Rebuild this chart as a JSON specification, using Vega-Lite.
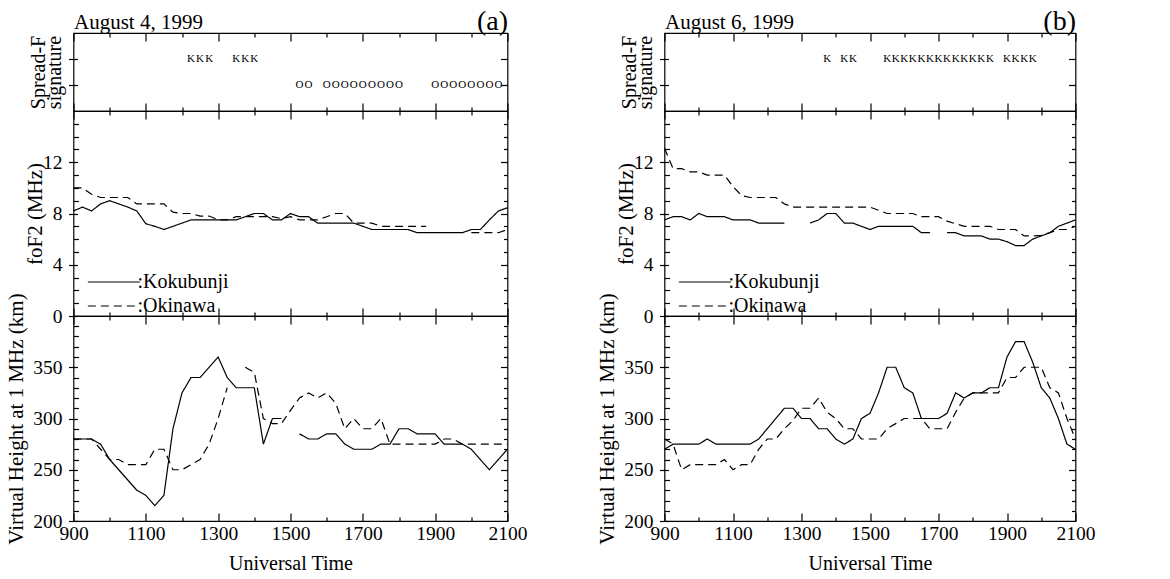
{
"$schema": "https://vega.github.io/schema/vega-lite/v6.json",
"background": "white",
"padding": {"left": 4.5, "top": 6, "right": 5, "bottom": 5},
"config": {
 "view": {"stroke": "black", "strokeWidth": 1.2},
 "axis": {"grid": false, "domain": false, "labelFont": "Liberation Serif", "labelFontSize": 19.5, "labelColor": "black", "titleFont": "Liberation Serif", "titleFontSize": 21, "titleFontWeight": "normal", "titleColor": "black", "tickColor": "black", "tickWidth": 1.2, "labelFlush": false, "labelOverlap": false, "labelBound": false},
 "legend": {"labelFont": "Liberation Serif", "labelColor": "black"},
 "text": {"font": "Liberation Serif"}
},
"datasets": {
 "sfA": [
  {"t":12.25,"lev":2,"ch":"K"},{"t":12.5,"lev":2,"ch":"K"},{"t":12.75,"lev":2,"ch":"K"},
  {"t":13.5,"lev":2,"ch":"K"},{"t":13.75,"lev":2,"ch":"K"},{"t":14,"lev":2,"ch":"K"},
  {"t":15.25,"lev":1,"ch":"O"},{"t":15.5,"lev":1,"ch":"O"},
  {"t":16,"lev":1,"ch":"O"},{"t":16.25,"lev":1,"ch":"O"},{"t":16.5,"lev":1,"ch":"O"},{"t":16.75,"lev":1,"ch":"O"},{"t":17,"lev":1,"ch":"O"},{"t":17.25,"lev":1,"ch":"O"},{"t":17.5,"lev":1,"ch":"O"},{"t":17.75,"lev":1,"ch":"O"},{"t":18,"lev":1,"ch":"O"},
  {"t":19,"lev":1,"ch":"O"},{"t":19.25,"lev":1,"ch":"O"},{"t":19.5,"lev":1,"ch":"O"},{"t":19.75,"lev":1,"ch":"O"},{"t":20,"lev":1,"ch":"O"},{"t":20.25,"lev":1,"ch":"O"},{"t":20.5,"lev":1,"ch":"O"},{"t":20.75,"lev":1,"ch":"O"}
 ],
 "sfB": [
  {"t":13.75,"lev":2,"ch":"K"},{"t":14.25,"lev":2,"ch":"K"},{"t":14.5,"lev":2,"ch":"K"},
  {"t":15.5,"lev":2,"ch":"K"},{"t":15.75,"lev":2,"ch":"K"},{"t":16,"lev":2,"ch":"K"},{"t":16.25,"lev":2,"ch":"K"},{"t":16.5,"lev":2,"ch":"K"},{"t":16.75,"lev":2,"ch":"K"},{"t":17,"lev":2,"ch":"K"},{"t":17.25,"lev":2,"ch":"K"},{"t":17.5,"lev":2,"ch":"K"},{"t":17.75,"lev":2,"ch":"K"},{"t":18,"lev":2,"ch":"K"},{"t":18.25,"lev":2,"ch":"K"},{"t":18.5,"lev":2,"ch":"K"},
  {"t":19,"lev":2,"ch":"K"},{"t":19.25,"lev":2,"ch":"K"},{"t":19.5,"lev":2,"ch":"K"},{"t":19.75,"lev":2,"ch":"K"}
 ],
 "foA": [
  {"stn":"Kokubunji","seg":1,"t":9,"v":8.2},{"stn":"Kokubunji","seg":1,"t":9.25,"v":8.5},{"stn":"Kokubunji","seg":1,"t":9.5,"v":8.2},{"stn":"Kokubunji","seg":1,"t":9.75,"v":8.75},{"stn":"Kokubunji","seg":1,"t":10,"v":9},{"stn":"Kokubunji","seg":1,"t":10.25,"v":8.75},{"stn":"Kokubunji","seg":1,"t":10.5,"v":8.5},{"stn":"Kokubunji","seg":1,"t":10.75,"v":8.2},{"stn":"Kokubunji","seg":1,"t":11,"v":7.2},{"stn":"Kokubunji","seg":1,"t":11.25,"v":7},{"stn":"Kokubunji","seg":1,"t":11.5,"v":6.75},{"stn":"Kokubunji","seg":1,"t":11.75,"v":7},{"stn":"Kokubunji","seg":1,"t":12,"v":7.25},{"stn":"Kokubunji","seg":1,"t":12.25,"v":7.5},{"stn":"Kokubunji","seg":1,"t":12.5,"v":7.5},{"stn":"Kokubunji","seg":1,"t":12.75,"v":7.5},{"stn":"Kokubunji","seg":1,"t":13,"v":7.5},{"stn":"Kokubunji","seg":1,"t":13.25,"v":7.5},{"stn":"Kokubunji","seg":1,"t":13.5,"v":7.5},{"stn":"Kokubunji","seg":1,"t":13.75,"v":7.75},{"stn":"Kokubunji","seg":1,"t":14,"v":8},{"stn":"Kokubunji","seg":1,"t":14.25,"v":8},{"stn":"Kokubunji","seg":1,"t":14.5,"v":7.5},{"stn":"Kokubunji","seg":1,"t":14.75,"v":7.5},{"stn":"Kokubunji","seg":1,"t":15,"v":8},{"stn":"Kokubunji","seg":1,"t":15.25,"v":7.75},{"stn":"Kokubunji","seg":1,"t":15.5,"v":7.75},{"stn":"Kokubunji","seg":1,"t":15.75,"v":7.25},{"stn":"Kokubunji","seg":1,"t":16,"v":7.25},{"stn":"Kokubunji","seg":1,"t":16.25,"v":7.25},{"stn":"Kokubunji","seg":1,"t":16.5,"v":7.25},{"stn":"Kokubunji","seg":1,"t":16.75,"v":7.25},{"stn":"Kokubunji","seg":1,"t":17,"v":7},{"stn":"Kokubunji","seg":1,"t":17.25,"v":6.75},{"stn":"Kokubunji","seg":1,"t":17.5,"v":6.75},{"stn":"Kokubunji","seg":1,"t":17.75,"v":6.75},{"stn":"Kokubunji","seg":1,"t":18,"v":6.75},{"stn":"Kokubunji","seg":1,"t":18.25,"v":6.75},{"stn":"Kokubunji","seg":1,"t":18.5,"v":6.5},{"stn":"Kokubunji","seg":1,"t":18.75,"v":6.5},{"stn":"Kokubunji","seg":1,"t":19,"v":6.5},{"stn":"Kokubunji","seg":1,"t":19.25,"v":6.5},{"stn":"Kokubunji","seg":1,"t":19.5,"v":6.5},{"stn":"Kokubunji","seg":1,"t":19.75,"v":6.5},{"stn":"Kokubunji","seg":1,"t":20,"v":6.75},{"stn":"Kokubunji","seg":1,"t":20.25,"v":6.75},{"stn":"Kokubunji","seg":1,"t":20.5,"v":7.5},{"stn":"Kokubunji","seg":1,"t":20.75,"v":8.2},{"stn":"Kokubunji","seg":1,"t":21,"v":8.45},
  {"stn":"Okinawa","seg":1,"t":9,"v":10},{"stn":"Okinawa","seg":1,"t":9.25,"v":10},{"stn":"Okinawa","seg":1,"t":9.5,"v":9.5},{"stn":"Okinawa","seg":1,"t":9.75,"v":9.25},{"stn":"Okinawa","seg":1,"t":10,"v":9.25},{"stn":"Okinawa","seg":1,"t":10.25,"v":9.25},{"stn":"Okinawa","seg":1,"t":10.5,"v":9.25},{"stn":"Okinawa","seg":1,"t":10.75,"v":8.75},{"stn":"Okinawa","seg":1,"t":11,"v":8.75},{"stn":"Okinawa","seg":1,"t":11.25,"v":8.75},{"stn":"Okinawa","seg":1,"t":11.5,"v":8.75},{"stn":"Okinawa","seg":1,"t":11.75,"v":8.1},{"stn":"Okinawa","seg":1,"t":12,"v":8},{"stn":"Okinawa","seg":1,"t":12.25,"v":8},{"stn":"Okinawa","seg":1,"t":12.5,"v":7.8},{"stn":"Okinawa","seg":1,"t":12.75,"v":7.8},{"stn":"Okinawa","seg":1,"t":13,"v":7.5},{"stn":"Okinawa","seg":1,"t":13.25,"v":7.5},{"stn":"Okinawa","seg":1,"t":13.5,"v":7.75},{"stn":"Okinawa","seg":1,"t":13.75,"v":7.75},{"stn":"Okinawa","seg":1,"t":14,"v":7.75},{"stn":"Okinawa","seg":1,"t":14.25,"v":7.75},{"stn":"Okinawa","seg":1,"t":14.5,"v":7.75},{"stn":"Okinawa","seg":1,"t":14.75,"v":7.6},{"stn":"Okinawa","seg":1,"t":15,"v":7.75},{"stn":"Okinawa","seg":1,"t":15.25,"v":7.5},{"stn":"Okinawa","seg":1,"t":15.5,"v":7.5},{"stn":"Okinawa","seg":1,"t":15.75,"v":7.5},{"stn":"Okinawa","seg":1,"t":16,"v":7.75},{"stn":"Okinawa","seg":1,"t":16.25,"v":8},{"stn":"Okinawa","seg":1,"t":16.5,"v":8},{"stn":"Okinawa","seg":1,"t":16.75,"v":7.25},{"stn":"Okinawa","seg":1,"t":17,"v":7.25},{"stn":"Okinawa","seg":1,"t":17.25,"v":7.25},{"stn":"Okinawa","seg":1,"t":17.5,"v":7},{"stn":"Okinawa","seg":1,"t":17.75,"v":7},{"stn":"Okinawa","seg":1,"t":18,"v":7},{"stn":"Okinawa","seg":1,"t":18.25,"v":7},{"stn":"Okinawa","seg":1,"t":18.5,"v":7},{"stn":"Okinawa","seg":1,"t":18.75,"v":7},
  {"stn":"Okinawa","seg":2,"t":20,"v":6.5},{"stn":"Okinawa","seg":2,"t":20.25,"v":6.5},{"stn":"Okinawa","seg":2,"t":20.5,"v":6.5},{"stn":"Okinawa","seg":2,"t":20.75,"v":6.5},{"stn":"Okinawa","seg":2,"t":21,"v":6.75}
 ],
 "foB": [
  {"stn":"Kokubunji","seg":1,"t":9,"v":7.5},{"stn":"Kokubunji","seg":1,"t":9.25,"v":7.75},{"stn":"Kokubunji","seg":1,"t":9.5,"v":7.75},{"stn":"Kokubunji","seg":1,"t":9.75,"v":7.5},{"stn":"Kokubunji","seg":1,"t":10,"v":8},{"stn":"Kokubunji","seg":1,"t":10.25,"v":7.75},{"stn":"Kokubunji","seg":1,"t":10.5,"v":7.75},{"stn":"Kokubunji","seg":1,"t":10.75,"v":7.75},{"stn":"Kokubunji","seg":1,"t":11,"v":7.5},{"stn":"Kokubunji","seg":1,"t":11.25,"v":7.5},{"stn":"Kokubunji","seg":1,"t":11.5,"v":7.5},{"stn":"Kokubunji","seg":1,"t":11.75,"v":7.25},{"stn":"Kokubunji","seg":1,"t":12,"v":7.25},{"stn":"Kokubunji","seg":1,"t":12.25,"v":7.25},{"stn":"Kokubunji","seg":1,"t":12.5,"v":7.25},
  {"stn":"Kokubunji","seg":2,"t":13.25,"v":7.25},{"stn":"Kokubunji","seg":2,"t":13.5,"v":7.5},{"stn":"Kokubunji","seg":2,"t":13.75,"v":8},{"stn":"Kokubunji","seg":2,"t":14,"v":8},{"stn":"Kokubunji","seg":2,"t":14.25,"v":7.25},{"stn":"Kokubunji","seg":2,"t":14.5,"v":7.25},{"stn":"Kokubunji","seg":2,"t":14.75,"v":7},{"stn":"Kokubunji","seg":2,"t":15,"v":6.75},{"stn":"Kokubunji","seg":2,"t":15.25,"v":7},{"stn":"Kokubunji","seg":2,"t":15.5,"v":7},{"stn":"Kokubunji","seg":2,"t":15.75,"v":7},{"stn":"Kokubunji","seg":2,"t":16,"v":7},{"stn":"Kokubunji","seg":2,"t":16.25,"v":7},{"stn":"Kokubunji","seg":2,"t":16.5,"v":6.5},{"stn":"Kokubunji","seg":2,"t":16.75,"v":6.5},
  {"stn":"Kokubunji","seg":3,"t":17.25,"v":6.5},{"stn":"Kokubunji","seg":3,"t":17.5,"v":6.5},{"stn":"Kokubunji","seg":3,"t":17.75,"v":6.25},{"stn":"Kokubunji","seg":3,"t":18,"v":6.25},{"stn":"Kokubunji","seg":3,"t":18.25,"v":6.25},{"stn":"Kokubunji","seg":3,"t":18.5,"v":6},{"stn":"Kokubunji","seg":3,"t":18.75,"v":6},{"stn":"Kokubunji","seg":3,"t":19,"v":5.8},{"stn":"Kokubunji","seg":3,"t":19.25,"v":5.5},{"stn":"Kokubunji","seg":3,"t":19.5,"v":5.5},{"stn":"Kokubunji","seg":3,"t":19.75,"v":6},{"stn":"Kokubunji","seg":3,"t":20,"v":6.25},{"stn":"Kokubunji","seg":3,"t":20.25,"v":6.5},{"stn":"Kokubunji","seg":3,"t":20.5,"v":7},{"stn":"Kokubunji","seg":3,"t":20.75,"v":7.25},{"stn":"Kokubunji","seg":3,"t":21,"v":7.5},
  {"stn":"Okinawa","seg":1,"t":9,"v":13.1},{"stn":"Okinawa","seg":1,"t":9.25,"v":11.5},{"stn":"Okinawa","seg":1,"t":9.5,"v":11.5},{"stn":"Okinawa","seg":1,"t":9.75,"v":11.25},{"stn":"Okinawa","seg":1,"t":10,"v":11.25},{"stn":"Okinawa","seg":1,"t":10.25,"v":11},{"stn":"Okinawa","seg":1,"t":10.5,"v":11},{"stn":"Okinawa","seg":1,"t":10.75,"v":11},{"stn":"Okinawa","seg":1,"t":11,"v":10.1},{"stn":"Okinawa","seg":1,"t":11.25,"v":9.4},{"stn":"Okinawa","seg":1,"t":11.5,"v":9.25},{"stn":"Okinawa","seg":1,"t":11.75,"v":9.25},{"stn":"Okinawa","seg":1,"t":12,"v":9.25},{"stn":"Okinawa","seg":1,"t":12.25,"v":9.25},{"stn":"Okinawa","seg":1,"t":12.5,"v":8.75},{"stn":"Okinawa","seg":1,"t":12.75,"v":8.5},{"stn":"Okinawa","seg":1,"t":13,"v":8.5},{"stn":"Okinawa","seg":1,"t":13.25,"v":8.5},{"stn":"Okinawa","seg":1,"t":13.5,"v":8.5},{"stn":"Okinawa","seg":1,"t":13.75,"v":8.5},{"stn":"Okinawa","seg":1,"t":14,"v":8.5},{"stn":"Okinawa","seg":1,"t":14.25,"v":8.5},{"stn":"Okinawa","seg":1,"t":14.5,"v":8.5},{"stn":"Okinawa","seg":1,"t":14.75,"v":8.5},{"stn":"Okinawa","seg":1,"t":15,"v":8.5},{"stn":"Okinawa","seg":1,"t":15.25,"v":8.25},{"stn":"Okinawa","seg":1,"t":15.5,"v":8},{"stn":"Okinawa","seg":1,"t":15.75,"v":8},{"stn":"Okinawa","seg":1,"t":16,"v":8},{"stn":"Okinawa","seg":1,"t":16.25,"v":8},{"stn":"Okinawa","seg":1,"t":16.5,"v":7.75},{"stn":"Okinawa","seg":1,"t":16.75,"v":7.75},{"stn":"Okinawa","seg":1,"t":17,"v":7.75},{"stn":"Okinawa","seg":1,"t":17.25,"v":7.4},{"stn":"Okinawa","seg":1,"t":17.5,"v":7.2},{"stn":"Okinawa","seg":1,"t":17.75,"v":7},{"stn":"Okinawa","seg":1,"t":18,"v":7},{"stn":"Okinawa","seg":1,"t":18.25,"v":7},{"stn":"Okinawa","seg":1,"t":18.5,"v":7},{"stn":"Okinawa","seg":1,"t":18.75,"v":6.75},{"stn":"Okinawa","seg":1,"t":19,"v":6.75},{"stn":"Okinawa","seg":1,"t":19.25,"v":6.75},{"stn":"Okinawa","seg":1,"t":19.5,"v":6.25},{"stn":"Okinawa","seg":1,"t":19.75,"v":6.25},{"stn":"Okinawa","seg":1,"t":20,"v":6.3},{"stn":"Okinawa","seg":1,"t":20.25,"v":6.5},{"stn":"Okinawa","seg":1,"t":20.5,"v":6.75},{"stn":"Okinawa","seg":1,"t":20.75,"v":6.75},{"stn":"Okinawa","seg":1,"t":21,"v":7}
 ],
 "vhA": [
  {"stn":"Kokubunji","seg":1,"t":9,"v":280},{"stn":"Kokubunji","seg":1,"t":9.25,"v":280},{"stn":"Kokubunji","seg":1,"t":9.5,"v":280},{"stn":"Kokubunji","seg":1,"t":9.75,"v":275},{"stn":"Kokubunji","seg":1,"t":10,"v":260},{"stn":"Kokubunji","seg":1,"t":10.25,"v":250},{"stn":"Kokubunji","seg":1,"t":10.5,"v":240},{"stn":"Kokubunji","seg":1,"t":10.75,"v":230},{"stn":"Kokubunji","seg":1,"t":11,"v":225},{"stn":"Kokubunji","seg":1,"t":11.25,"v":215},{"stn":"Kokubunji","seg":1,"t":11.5,"v":225},{"stn":"Kokubunji","seg":1,"t":11.75,"v":290},{"stn":"Kokubunji","seg":1,"t":12,"v":325},{"stn":"Kokubunji","seg":1,"t":12.25,"v":340},{"stn":"Kokubunji","seg":1,"t":12.5,"v":340},{"stn":"Kokubunji","seg":1,"t":12.75,"v":350},{"stn":"Kokubunji","seg":1,"t":13,"v":360},{"stn":"Kokubunji","seg":1,"t":13.25,"v":340},{"stn":"Kokubunji","seg":1,"t":13.5,"v":330},{"stn":"Kokubunji","seg":1,"t":13.75,"v":330},{"stn":"Kokubunji","seg":1,"t":14,"v":330},{"stn":"Kokubunji","seg":1,"t":14.25,"v":275},{"stn":"Kokubunji","seg":1,"t":14.5,"v":300},{"stn":"Kokubunji","seg":1,"t":14.75,"v":300},
  {"stn":"Kokubunji","seg":2,"t":15.25,"v":285},{"stn":"Kokubunji","seg":2,"t":15.5,"v":280},{"stn":"Kokubunji","seg":2,"t":15.75,"v":280},{"stn":"Kokubunji","seg":2,"t":16,"v":285},{"stn":"Kokubunji","seg":2,"t":16.25,"v":285},{"stn":"Kokubunji","seg":2,"t":16.5,"v":275},{"stn":"Kokubunji","seg":2,"t":16.75,"v":270},{"stn":"Kokubunji","seg":2,"t":17,"v":270},{"stn":"Kokubunji","seg":2,"t":17.25,"v":270},{"stn":"Kokubunji","seg":2,"t":17.5,"v":275},{"stn":"Kokubunji","seg":2,"t":17.75,"v":275},{"stn":"Kokubunji","seg":2,"t":18,"v":290},{"stn":"Kokubunji","seg":2,"t":18.25,"v":290},{"stn":"Kokubunji","seg":2,"t":18.5,"v":285},{"stn":"Kokubunji","seg":2,"t":18.75,"v":285},{"stn":"Kokubunji","seg":2,"t":19,"v":285},{"stn":"Kokubunji","seg":2,"t":19.25,"v":275},{"stn":"Kokubunji","seg":2,"t":19.5,"v":275},{"stn":"Kokubunji","seg":2,"t":19.75,"v":275},{"stn":"Kokubunji","seg":2,"t":20,"v":270},{"stn":"Kokubunji","seg":2,"t":20.25,"v":260},{"stn":"Kokubunji","seg":2,"t":20.5,"v":250},{"stn":"Kokubunji","seg":2,"t":20.75,"v":260},{"stn":"Kokubunji","seg":2,"t":21,"v":270},
  {"stn":"Okinawa","seg":1,"t":9,"v":280},{"stn":"Okinawa","seg":1,"t":9.25,"v":280},{"stn":"Okinawa","seg":1,"t":9.5,"v":280},{"stn":"Okinawa","seg":1,"t":9.75,"v":270},{"stn":"Okinawa","seg":1,"t":10,"v":260},{"stn":"Okinawa","seg":1,"t":10.25,"v":260},{"stn":"Okinawa","seg":1,"t":10.5,"v":255},{"stn":"Okinawa","seg":1,"t":10.75,"v":255},{"stn":"Okinawa","seg":1,"t":11,"v":255},{"stn":"Okinawa","seg":1,"t":11.25,"v":270},{"stn":"Okinawa","seg":1,"t":11.5,"v":270},{"stn":"Okinawa","seg":1,"t":11.75,"v":250},{"stn":"Okinawa","seg":1,"t":12,"v":250},{"stn":"Okinawa","seg":1,"t":12.25,"v":255},{"stn":"Okinawa","seg":1,"t":12.5,"v":260},{"stn":"Okinawa","seg":1,"t":12.75,"v":275},{"stn":"Okinawa","seg":1,"t":13,"v":300},{"stn":"Okinawa","seg":1,"t":13.25,"v":330},
  {"stn":"Okinawa","seg":2,"t":13.75,"v":350},{"stn":"Okinawa","seg":2,"t":14,"v":345},{"stn":"Okinawa","seg":2,"t":14.25,"v":300},{"stn":"Okinawa","seg":2,"t":14.5,"v":295},{"stn":"Okinawa","seg":2,"t":14.75,"v":295},{"stn":"Okinawa","seg":2,"t":15,"v":308},{"stn":"Okinawa","seg":2,"t":15.25,"v":320},{"stn":"Okinawa","seg":2,"t":15.5,"v":325},{"stn":"Okinawa","seg":2,"t":15.75,"v":320},{"stn":"Okinawa","seg":2,"t":16,"v":325},{"stn":"Okinawa","seg":2,"t":16.25,"v":315},{"stn":"Okinawa","seg":2,"t":16.5,"v":290},{"stn":"Okinawa","seg":2,"t":16.75,"v":300},{"stn":"Okinawa","seg":2,"t":17,"v":290},{"stn":"Okinawa","seg":2,"t":17.25,"v":290},{"stn":"Okinawa","seg":2,"t":17.5,"v":300},{"stn":"Okinawa","seg":2,"t":17.75,"v":275},{"stn":"Okinawa","seg":2,"t":18,"v":275},{"stn":"Okinawa","seg":2,"t":18.25,"v":275},{"stn":"Okinawa","seg":2,"t":18.5,"v":275},{"stn":"Okinawa","seg":2,"t":18.75,"v":275},{"stn":"Okinawa","seg":2,"t":19,"v":275},{"stn":"Okinawa","seg":2,"t":19.25,"v":280},{"stn":"Okinawa","seg":2,"t":19.5,"v":280},{"stn":"Okinawa","seg":2,"t":19.75,"v":275},{"stn":"Okinawa","seg":2,"t":20,"v":275},{"stn":"Okinawa","seg":2,"t":20.25,"v":275},{"stn":"Okinawa","seg":2,"t":20.5,"v":275},{"stn":"Okinawa","seg":2,"t":20.75,"v":275},{"stn":"Okinawa","seg":2,"t":21,"v":275}
 ],
 "vhB": [
  {"stn":"Kokubunji","seg":1,"t":9,"v":270},{"stn":"Kokubunji","seg":1,"t":9.25,"v":275},{"stn":"Kokubunji","seg":1,"t":9.5,"v":275},{"stn":"Kokubunji","seg":1,"t":9.75,"v":275},{"stn":"Kokubunji","seg":1,"t":10,"v":275},{"stn":"Kokubunji","seg":1,"t":10.25,"v":280},{"stn":"Kokubunji","seg":1,"t":10.5,"v":275},{"stn":"Kokubunji","seg":1,"t":10.75,"v":275},{"stn":"Kokubunji","seg":1,"t":11,"v":275},{"stn":"Kokubunji","seg":1,"t":11.25,"v":275},{"stn":"Kokubunji","seg":1,"t":11.5,"v":275},{"stn":"Kokubunji","seg":1,"t":11.75,"v":280},{"stn":"Kokubunji","seg":1,"t":12,"v":290},{"stn":"Kokubunji","seg":1,"t":12.25,"v":300},{"stn":"Kokubunji","seg":1,"t":12.5,"v":310},{"stn":"Kokubunji","seg":1,"t":12.75,"v":310},{"stn":"Kokubunji","seg":1,"t":13,"v":300},{"stn":"Kokubunji","seg":1,"t":13.25,"v":300},{"stn":"Kokubunji","seg":1,"t":13.5,"v":290},{"stn":"Kokubunji","seg":1,"t":13.75,"v":290},{"stn":"Kokubunji","seg":1,"t":14,"v":280},{"stn":"Kokubunji","seg":1,"t":14.25,"v":275},{"stn":"Kokubunji","seg":1,"t":14.5,"v":280},{"stn":"Kokubunji","seg":1,"t":14.75,"v":300},{"stn":"Kokubunji","seg":1,"t":15,"v":305},{"stn":"Kokubunji","seg":1,"t":15.25,"v":325},{"stn":"Kokubunji","seg":1,"t":15.5,"v":350},{"stn":"Kokubunji","seg":1,"t":15.75,"v":350},{"stn":"Kokubunji","seg":1,"t":16,"v":330},{"stn":"Kokubunji","seg":1,"t":16.25,"v":325},{"stn":"Kokubunji","seg":1,"t":16.5,"v":300},{"stn":"Kokubunji","seg":1,"t":16.75,"v":300},{"stn":"Kokubunji","seg":1,"t":17,"v":300},{"stn":"Kokubunji","seg":1,"t":17.25,"v":305},{"stn":"Kokubunji","seg":1,"t":17.5,"v":325},{"stn":"Kokubunji","seg":1,"t":17.75,"v":320},{"stn":"Kokubunji","seg":1,"t":18,"v":325},{"stn":"Kokubunji","seg":1,"t":18.25,"v":325},{"stn":"Kokubunji","seg":1,"t":18.5,"v":330},{"stn":"Kokubunji","seg":1,"t":18.75,"v":330},{"stn":"Kokubunji","seg":1,"t":19,"v":360},{"stn":"Kokubunji","seg":1,"t":19.25,"v":375},{"stn":"Kokubunji","seg":1,"t":19.5,"v":375},{"stn":"Kokubunji","seg":1,"t":19.75,"v":355},{"stn":"Kokubunji","seg":1,"t":20,"v":330},{"stn":"Kokubunji","seg":1,"t":20.25,"v":320},{"stn":"Kokubunji","seg":1,"t":20.5,"v":300},{"stn":"Kokubunji","seg":1,"t":20.75,"v":275},{"stn":"Kokubunji","seg":1,"t":21,"v":270},
  {"stn":"Okinawa","seg":1,"t":9,"v":280},{"stn":"Okinawa","seg":1,"t":9.25,"v":275},{"stn":"Okinawa","seg":1,"t":9.5,"v":250},{"stn":"Okinawa","seg":1,"t":9.75,"v":255},{"stn":"Okinawa","seg":1,"t":10,"v":255},{"stn":"Okinawa","seg":1,"t":10.25,"v":255},{"stn":"Okinawa","seg":1,"t":10.5,"v":255},{"stn":"Okinawa","seg":1,"t":10.75,"v":260},{"stn":"Okinawa","seg":1,"t":11,"v":250},{"stn":"Okinawa","seg":1,"t":11.25,"v":255},{"stn":"Okinawa","seg":1,"t":11.5,"v":255},{"stn":"Okinawa","seg":1,"t":11.75,"v":270},{"stn":"Okinawa","seg":1,"t":12,"v":280},{"stn":"Okinawa","seg":1,"t":12.25,"v":280},{"stn":"Okinawa","seg":1,"t":12.5,"v":290},{"stn":"Okinawa","seg":1,"t":12.75,"v":298},{"stn":"Okinawa","seg":1,"t":13,"v":310},{"stn":"Okinawa","seg":1,"t":13.25,"v":310},{"stn":"Okinawa","seg":1,"t":13.5,"v":320},{"stn":"Okinawa","seg":1,"t":13.75,"v":306},{"stn":"Okinawa","seg":1,"t":14,"v":300},{"stn":"Okinawa","seg":1,"t":14.25,"v":290},{"stn":"Okinawa","seg":1,"t":14.5,"v":290},{"stn":"Okinawa","seg":1,"t":14.75,"v":280},{"stn":"Okinawa","seg":1,"t":15,"v":280},{"stn":"Okinawa","seg":1,"t":15.25,"v":280},{"stn":"Okinawa","seg":1,"t":15.5,"v":290},{"stn":"Okinawa","seg":1,"t":15.75,"v":295},{"stn":"Okinawa","seg":1,"t":16,"v":300},{"stn":"Okinawa","seg":1,"t":16.25,"v":300},{"stn":"Okinawa","seg":1,"t":16.5,"v":300},{"stn":"Okinawa","seg":1,"t":16.75,"v":290},{"stn":"Okinawa","seg":1,"t":17,"v":290},{"stn":"Okinawa","seg":1,"t":17.25,"v":290},{"stn":"Okinawa","seg":1,"t":17.5,"v":306},{"stn":"Okinawa","seg":1,"t":17.75,"v":320},{"stn":"Okinawa","seg":1,"t":18,"v":325},{"stn":"Okinawa","seg":1,"t":18.25,"v":325},{"stn":"Okinawa","seg":1,"t":18.5,"v":325},{"stn":"Okinawa","seg":1,"t":18.75,"v":325},{"stn":"Okinawa","seg":1,"t":19,"v":340},{"stn":"Okinawa","seg":1,"t":19.25,"v":340},{"stn":"Okinawa","seg":1,"t":19.5,"v":350},{"stn":"Okinawa","seg":1,"t":19.75,"v":350},{"stn":"Okinawa","seg":1,"t":20,"v":350},{"stn":"Okinawa","seg":1,"t":20.25,"v":330},{"stn":"Okinawa","seg":1,"t":20.5,"v":325},{"stn":"Okinawa","seg":1,"t":20.75,"v":300},{"stn":"Okinawa","seg":1,"t":21,"v":280}
 ]
},
"spacing": 67,
"resolve": {"scale": {"strokeDash": "independent"}, "legend": {"strokeDash": "independent"}},
"hconcat": [
 {"vconcat": [
  {"width": 434, "height": 78, "data": {"name": "sfA"},
   "layer": [
    {"mark": {"type": "text", "fontSize": 11, "font": "Liberation Serif", "color": "black", "baseline": "middle", "align": "center"},
     "encoding": {
      "x": {"field": "t", "type": "quantitative", "scale": {"domain": [9, 21], "nice": false, "zero": false}, "axis": {"orient": "bottom", "values": [9,11,13,15,17,19,21], "tickSize": -8, "labels": false, "title": null}},
      "y": {"field": "lev", "type": "quantitative", "scale": {"domain": [0, 3], "nice": false, "zero": false}, "axis": {"orient": "left", "values": [1, 2], "offset": -4, "tickSize": 9, "labels": false, "title": ["Spread-F", "signature"], "titlePadding": 3, "titleLineHeight": 16, "titleFontSize": 20}},
      "text": {"field": "ch", "type": "nominal"}}},
    {"mark": {"type": "point", "opacity": 0},
     "encoding": {
      "x": {"field": "t", "type": "quantitative", "scale": {"domain": [9, 21], "nice": false, "zero": false}, "axis": {"orient": "bottom", "values": [10,12,14,16,18,20], "tickSize": -4, "labels": false, "title": null}},
      "y": {"field": "lev", "type": "quantitative", "scale": {"domain": [0, 3], "nice": false, "zero": false}, "axis": {"orient": "right", "values": [1, 2], "tickSize": -7, "labels": false, "title": null}}}},
    {"mark": {"type": "point", "opacity": 0},
     "encoding": {
      "x": {"field": "t", "type": "quantitative", "scale": {"domain": [9, 21], "nice": false, "zero": false}, "axis": {"orient": "top", "values": [9,11,13,15,17,19,21], "tickSize": -8, "labels": false, "title": "August 4, 1999", "titleAnchor": "start", "titleAlign": "left", "titleBaseline": "alphabetic", "titlePadding": 4, "titleFontSize": 21}},
      "y": {"field": "lev", "type": "quantitative", "scale": {"domain": [0, 3], "nice": false, "zero": false}, "axis": null}}},
    {"mark": {"type": "point", "opacity": 0},
     "encoding": {
      "x": {"field": "t", "type": "quantitative", "scale": {"domain": [9, 21], "nice": false, "zero": false}, "axis": {"orient": "top", "values": [10,12,14,16,18,20], "tickSize": -4, "labels": false, "title": "(a)", "titleAnchor": "end", "titleAlign": "right", "titleBaseline": "alphabetic", "titlePadding": 3, "titleFontSize": 28}},
      "y": {"field": "lev", "type": "quantitative", "scale": {"domain": [0, 3], "nice": false, "zero": false}, "axis": null}}}
   ],
   "resolve": {"axis": {"x": "independent", "y": "independent"}}},
  {"width": 434, "height": 205, "data": {"name": "foA"},
   "layer": [
    {"mark": {"type": "line", "strokeWidth": 1.2, "color": "black"},
     "encoding": {
      "x": {"field": "t", "type": "quantitative", "scale": {"domain": [9, 21], "nice": false, "zero": false}, "axis": {"orient": "bottom", "values": [9,11,13,15,17,19,21], "tickSize": -8, "labels": false, "title": null}},
      "y": {"field": "v", "type": "quantitative", "scale": {"domain": [0, 16], "nice": false, "zero": false}, "axis": {"orient": "left", "values": [0,4,8,12], "offset": -4, "tickSize": 9, "labelPadding": 6.5, "title": "foF2  (MHz)", "titlePadding": -3}},
      "strokeDash": {"field": "stn", "type": "nominal", "scale": {"domain": ["Kokubunji", "Okinawa"], "range": [[1, 0], [8, 5]]}, "legend": {"orient": "none", "legendX": 13, "legendY": 161, "title": null, "labelExpr": "':' + datum.label", "symbolType": "M-1,0H5", "symbolSize": 300, "symbolStrokeWidth": 1.2, "symbolStrokeColor": "black", "labelFontSize": 20, "labelOffset": 31, "rowPadding": 4}},
      "detail": {"field": "seg", "type": "nominal"}}},
    {"mark": {"type": "point", "opacity": 0},
     "encoding": {
      "x": {"field": "t", "type": "quantitative", "scale": {"domain": [9, 21], "nice": false, "zero": false}, "axis": {"orient": "bottom", "values": [10,12,14,16,18,20], "tickSize": -4, "labels": false, "title": null}},
      "y": {"field": "v", "type": "quantitative", "scale": {"domain": [0, 16], "nice": false, "zero": false}, "axis": {"orient": "left", "values": [1,2,3,5,6,7,9,10,11,13,14,15], "tickSize": -5, "labels": false, "title": null}}}},
    {"mark": {"type": "point", "opacity": 0},
     "encoding": {
      "x": {"field": "t", "type": "quantitative", "scale": {"domain": [9, 21], "nice": false, "zero": false}, "axis": {"orient": "top", "values": [9,11,13,15,17,19,21], "tickSize": -8, "labels": false, "title": null}},
      "y": {"field": "v", "type": "quantitative", "scale": {"domain": [0, 16], "nice": false, "zero": false}, "axis": {"orient": "right", "values": [4,8,12], "tickSize": -7, "labels": false, "title": null}}}},
    {"mark": {"type": "point", "opacity": 0},
     "encoding": {
      "x": {"field": "t", "type": "quantitative", "scale": {"domain": [9, 21], "nice": false, "zero": false}, "axis": {"orient": "top", "values": [10,12,14,16,18,20], "tickSize": -4, "labels": false, "title": null}},
      "y": {"field": "v", "type": "quantitative", "scale": {"domain": [0, 16], "nice": false, "zero": false}, "axis": {"orient": "right", "values": [1,2,3,5,6,7,9,10,11,13,14,15], "tickSize": -4, "labels": false, "title": null}}}}
   ],
   "resolve": {"axis": {"x": "independent", "y": "independent"}}},
  {"width": 434, "height": 205, "data": {"name": "vhA"},
   "layer": [
    {"mark": {"type": "line", "strokeWidth": 1.2, "color": "black"},
     "encoding": {
      "x": {"field": "t", "type": "quantitative", "scale": {"domain": [9, 21], "nice": false, "zero": false}, "axis": {"orient": "bottom", "values": [9,11,13,15,17,19,21], "tickSize": -8, "labelExpr": "datum.value * 100", "labelPadding": 11, "title": "Universal Time", "titlePadding": 11, "titleFontSize": 20}},
      "y": {"field": "v", "type": "quantitative", "scale": {"domain": [200, 400], "nice": false, "zero": false}, "axis": {"orient": "left", "values": [200,250,300,350], "offset": -4, "tickSize": 9, "labelPadding": 6.5, "title": "Virtual Height at 1 MHz (km)", "titlePadding": 6}},
      "strokeDash": {"field": "stn", "type": "nominal", "scale": {"domain": ["Kokubunji", "Okinawa"], "range": [[1, 0], [8, 5]]}, "legend": null},
      "detail": {"field": "seg", "type": "nominal"}}},
    {"mark": {"type": "point", "opacity": 0},
     "encoding": {
      "x": {"field": "t", "type": "quantitative", "scale": {"domain": [9, 21], "nice": false, "zero": false}, "axis": {"orient": "bottom", "values": [10,12,14,16,18,20], "tickSize": -4, "labels": false, "title": null}},
      "y": {"field": "v", "type": "quantitative", "scale": {"domain": [200, 400], "nice": false, "zero": false}, "axis": {"orient": "left", "values": [210,220,230,240,260,270,280,290,310,320,330,340,360,370,380,390], "tickSize": -5, "labels": false, "title": null}}}},
    {"mark": {"type": "point", "opacity": 0},
     "encoding": {
      "x": {"field": "t", "type": "quantitative", "scale": {"domain": [9, 21], "nice": false, "zero": false}, "axis": {"orient": "top", "values": [9,11,13,15,17,19,21], "tickSize": -8, "labels": false, "title": null}},
      "y": {"field": "v", "type": "quantitative", "scale": {"domain": [200, 400], "nice": false, "zero": false}, "axis": {"orient": "right", "values": [250,300,350], "tickSize": -7, "labels": false, "title": null}}}},
    {"mark": {"type": "point", "opacity": 0},
     "encoding": {
      "x": {"field": "t", "type": "quantitative", "scale": {"domain": [9, 21], "nice": false, "zero": false}, "axis": {"orient": "top", "values": [10,12,14,16,18,20], "tickSize": -4, "labels": false, "title": null}},
      "y": {"field": "v", "type": "quantitative", "scale": {"domain": [200, 400], "nice": false, "zero": false}, "axis": {"orient": "right", "values": [210,220,230,240,260,270,280,290,310,320,330,340,360,370,380,390], "tickSize": -4, "labels": false, "title": null}}}}
   ],
   "resolve": {"axis": {"x": "independent", "y": "independent"}}}
 ],
 "spacing": 0, "bounds": "flush",
 "resolve": {"scale": {"strokeDash": "independent"}, "legend": {"strokeDash": "independent"}}},
 {"vconcat": [
  {"width": 411, "height": 78, "data": {"name": "sfB"},
   "layer": [
    {"mark": {"type": "text", "fontSize": 11, "font": "Liberation Serif", "color": "black", "baseline": "middle", "align": "center"},
     "encoding": {
      "x": {"field": "t", "type": "quantitative", "scale": {"domain": [9, 21], "nice": false, "zero": false}, "axis": {"orient": "bottom", "values": [9,11,13,15,17,19,21], "tickSize": -8, "labels": false, "title": null}},
      "y": {"field": "lev", "type": "quantitative", "scale": {"domain": [0, 3], "nice": false, "zero": false}, "axis": {"orient": "left", "values": [1, 2], "offset": -4, "tickSize": 9, "labels": false, "title": ["Spread-F", "signature"], "titlePadding": 3, "titleLineHeight": 16, "titleFontSize": 20}},
      "text": {"field": "ch", "type": "nominal"}}},
    {"mark": {"type": "point", "opacity": 0},
     "encoding": {
      "x": {"field": "t", "type": "quantitative", "scale": {"domain": [9, 21], "nice": false, "zero": false}, "axis": {"orient": "bottom", "values": [10,12,14,16,18,20], "tickSize": -4, "labels": false, "title": null}},
      "y": {"field": "lev", "type": "quantitative", "scale": {"domain": [0, 3], "nice": false, "zero": false}, "axis": {"orient": "right", "values": [1, 2], "tickSize": -7, "labels": false, "title": null}}}},
    {"mark": {"type": "point", "opacity": 0},
     "encoding": {
      "x": {"field": "t", "type": "quantitative", "scale": {"domain": [9, 21], "nice": false, "zero": false}, "axis": {"orient": "top", "values": [9,11,13,15,17,19,21], "tickSize": -8, "labels": false, "title": "August 6, 1999", "titleAnchor": "start", "titleAlign": "left", "titleBaseline": "alphabetic", "titlePadding": 4, "titleFontSize": 21}},
      "y": {"field": "lev", "type": "quantitative", "scale": {"domain": [0, 3], "nice": false, "zero": false}, "axis": null}}},
    {"mark": {"type": "point", "opacity": 0},
     "encoding": {
      "x": {"field": "t", "type": "quantitative", "scale": {"domain": [9, 21], "nice": false, "zero": false}, "axis": {"orient": "top", "values": [10,12,14,16,18,20], "tickSize": -4, "labels": false, "title": "(b)", "titleAnchor": "end", "titleAlign": "right", "titleBaseline": "alphabetic", "titlePadding": 3, "titleFontSize": 28}},
      "y": {"field": "lev", "type": "quantitative", "scale": {"domain": [0, 3], "nice": false, "zero": false}, "axis": null}}}
   ],
   "resolve": {"axis": {"x": "independent", "y": "independent"}}},
  {"width": 411, "height": 205, "data": {"name": "foB"},
   "layer": [
    {"mark": {"type": "line", "strokeWidth": 1.2, "color": "black"},
     "encoding": {
      "x": {"field": "t", "type": "quantitative", "scale": {"domain": [9, 21], "nice": false, "zero": false}, "axis": {"orient": "bottom", "values": [9,11,13,15,17,19,21], "tickSize": -8, "labels": false, "title": null}},
      "y": {"field": "v", "type": "quantitative", "scale": {"domain": [0, 16], "nice": false, "zero": false}, "axis": {"orient": "left", "values": [0,4,8,12], "offset": -4, "tickSize": 9, "labelPadding": 6.5, "title": "foF2  (MHz)", "titlePadding": -3}},
      "strokeDash": {"field": "stn", "type": "nominal", "scale": {"domain": ["Kokubunji", "Okinawa"], "range": [[1, 0], [8, 5]]}, "legend": {"orient": "none", "legendX": 13, "legendY": 161, "title": null, "labelExpr": "':' + datum.label", "symbolType": "M-1,0H5", "symbolSize": 300, "symbolStrokeWidth": 1.2, "symbolStrokeColor": "black", "labelFontSize": 20, "labelOffset": 31, "rowPadding": 4}},
      "detail": {"field": "seg", "type": "nominal"}}},
    {"mark": {"type": "point", "opacity": 0},
     "encoding": {
      "x": {"field": "t", "type": "quantitative", "scale": {"domain": [9, 21], "nice": false, "zero": false}, "axis": {"orient": "bottom", "values": [10,12,14,16,18,20], "tickSize": -4, "labels": false, "title": null}},
      "y": {"field": "v", "type": "quantitative", "scale": {"domain": [0, 16], "nice": false, "zero": false}, "axis": {"orient": "left", "values": [1,2,3,5,6,7,9,10,11,13,14,15], "tickSize": -5, "labels": false, "title": null}}}},
    {"mark": {"type": "point", "opacity": 0},
     "encoding": {
      "x": {"field": "t", "type": "quantitative", "scale": {"domain": [9, 21], "nice": false, "zero": false}, "axis": {"orient": "top", "values": [9,11,13,15,17,19,21], "tickSize": -8, "labels": false, "title": null}},
      "y": {"field": "v", "type": "quantitative", "scale": {"domain": [0, 16], "nice": false, "zero": false}, "axis": {"orient": "right", "values": [4,8,12], "tickSize": -7, "labels": false, "title": null}}}},
    {"mark": {"type": "point", "opacity": 0},
     "encoding": {
      "x": {"field": "t", "type": "quantitative", "scale": {"domain": [9, 21], "nice": false, "zero": false}, "axis": {"orient": "top", "values": [10,12,14,16,18,20], "tickSize": -4, "labels": false, "title": null}},
      "y": {"field": "v", "type": "quantitative", "scale": {"domain": [0, 16], "nice": false, "zero": false}, "axis": {"orient": "right", "values": [1,2,3,5,6,7,9,10,11,13,14,15], "tickSize": -4, "labels": false, "title": null}}}}
   ],
   "resolve": {"axis": {"x": "independent", "y": "independent"}}},
  {"width": 411, "height": 205, "data": {"name": "vhB"},
   "layer": [
    {"mark": {"type": "line", "strokeWidth": 1.2, "color": "black"},
     "encoding": {
      "x": {"field": "t", "type": "quantitative", "scale": {"domain": [9, 21], "nice": false, "zero": false}, "axis": {"orient": "bottom", "values": [9,11,13,15,17,19,21], "tickSize": -8, "labelExpr": "datum.value * 100", "labelPadding": 11, "title": "Universal Time", "titlePadding": 11, "titleFontSize": 20}},
      "y": {"field": "v", "type": "quantitative", "scale": {"domain": [200, 400], "nice": false, "zero": false}, "axis": {"orient": "left", "values": [200,250,300,350], "offset": -4, "tickSize": 9, "labelPadding": 6.5, "title": "Virtual Height at 1 MHz (km)", "titlePadding": 6}},
      "strokeDash": {"field": "stn", "type": "nominal", "scale": {"domain": ["Kokubunji", "Okinawa"], "range": [[1, 0], [8, 5]]}, "legend": null},
      "detail": {"field": "seg", "type": "nominal"}}},
    {"mark": {"type": "point", "opacity": 0},
     "encoding": {
      "x": {"field": "t", "type": "quantitative", "scale": {"domain": [9, 21], "nice": false, "zero": false}, "axis": {"orient": "bottom", "values": [10,12,14,16,18,20], "tickSize": -4, "labels": false, "title": null}},
      "y": {"field": "v", "type": "quantitative", "scale": {"domain": [200, 400], "nice": false, "zero": false}, "axis": {"orient": "left", "values": [210,220,230,240,260,270,280,290,310,320,330,340,360,370,380,390], "tickSize": -5, "labels": false, "title": null}}}},
    {"mark": {"type": "point", "opacity": 0},
     "encoding": {
      "x": {"field": "t", "type": "quantitative", "scale": {"domain": [9, 21], "nice": false, "zero": false}, "axis": {"orient": "top", "values": [9,11,13,15,17,19,21], "tickSize": -8, "labels": false, "title": null}},
      "y": {"field": "v", "type": "quantitative", "scale": {"domain": [200, 400], "nice": false, "zero": false}, "axis": {"orient": "right", "values": [250,300,350], "tickSize": -7, "labels": false, "title": null}}}},
    {"mark": {"type": "point", "opacity": 0},
     "encoding": {
      "x": {"field": "t", "type": "quantitative", "scale": {"domain": [9, 21], "nice": false, "zero": false}, "axis": {"orient": "top", "values": [10,12,14,16,18,20], "tickSize": -4, "labels": false, "title": null}},
      "y": {"field": "v", "type": "quantitative", "scale": {"domain": [200, 400], "nice": false, "zero": false}, "axis": {"orient": "right", "values": [210,220,230,240,260,270,280,290,310,320,330,340,360,370,380,390], "tickSize": -4, "labels": false, "title": null}}}}
   ],
   "resolve": {"axis": {"x": "independent", "y": "independent"}}}
 ],
 "spacing": 0, "bounds": "flush",
 "resolve": {"scale": {"strokeDash": "independent"}, "legend": {"strokeDash": "independent"}}}
]
}
